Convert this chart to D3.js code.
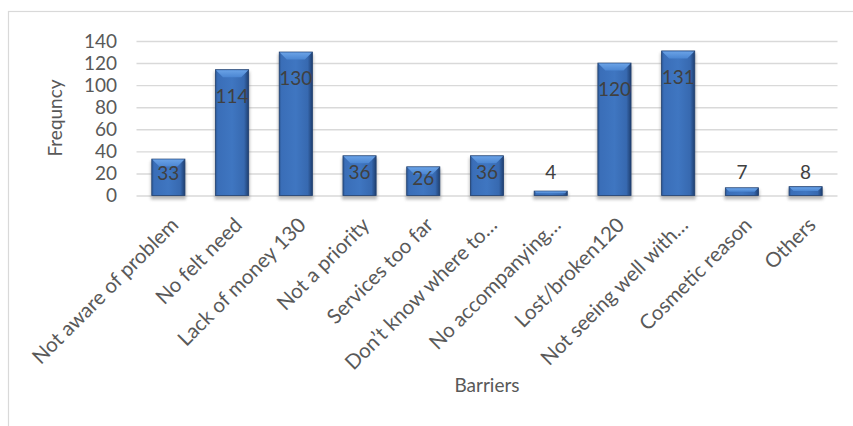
<!DOCTYPE html>
<html>
<head>
<meta charset="utf-8">
<script src="https://cdn.jsdelivr.net/npm/d3@7"></script>
<style>
  html, body { margin: 0; padding: 0; background: #fff; }
  svg { display: block; }
  text { font-family: Lato, "Open Sans", sans-serif; }
</style>
</head>
<body>
<div id="chart"></div>
<script>
const categories = ["Not aware of problem", "No felt need", "Lack of money 130", "Not a priority",
  "Services too far", "Don\u2019t know where to\u2026", "No accompanying\u2026", "Lost/broken120",
  "Not seeing well with\u2026", "Cosmetic reason", "Others"];
const values = [33, 114, 130, 36, 26, 36, 4, 120, 131, 7, 8];
const yTicks = [0, 20, 40, 60, 80, 100, 120, 140];
const yTitle = "Frequncy";
const xTitle = "Barriers";

const W = 853, H = 426;
const svg = d3.select("#chart").append("svg").attr("width", W).attr("height", H);
const defs = svg.append("defs");

const bodyGrad = defs.append("linearGradient").attr("id", "body").attr("x1", 0).attr("x2", 1).attr("y1", 0).attr("y2", 0);
[["0%", "#2c5896"], ["7%", "#3a6eb8"], ["50%", "#3f76c1"], ["86%", "#3769b0"], ["100%", "#1f3f70"]]
  .forEach(([o, c]) => bodyGrad.append("stop").attr("offset", o).attr("stop-color", c));
const topGrad = defs.append("linearGradient").attr("id", "bevel").attr("x1", 0).attr("x2", 0).attr("y1", 0).attr("y2", 1);
[["0%", "#6aa2e6"], ["100%", "#4b86d2"]].forEach(([o, c]) => topGrad.append("stop").attr("offset", o).attr("stop-color", c));
const blur = defs.append("filter").attr("id", "shadow").attr("x", "-20%").attr("y", "-50%").attr("width", "140%").attr("height", "200%");
blur.append("feGaussianBlur").attr("stdDeviation", 1.6);

// chart border
svg.append("rect").attr("x", 8.5).attr("y", 11.5).attr("width", 900).attr("height", 500)
  .attr("fill", "none").attr("stroke", "#d9d9d9").attr("stroke-width", 1.2);

const x = d3.scaleBand().domain(categories).range([136.5, 837.5]).paddingInner(0.48).paddingOuter(0.24);
const y = d3.scaleLinear().domain([0, 140]).range([195.5, 41]);

// gridlines
const yAxis = d3.axisLeft(y).tickValues(yTicks).tickSize(-(837.5 - 136.5)).tickPadding(20);
const gy = svg.append("g").attr("transform", "translate(136.5,0)").call(yAxis);
gy.select(".domain").remove();
gy.selectAll(".tick line").attr("stroke", "#d9d9d9").attr("stroke-width", 1.4);
gy.selectAll(".tick text").attr("fill", "#595959").style("font-size", "19px").style("font-family", "Lato")
  .attr("x", 117 - 136.5).attr("text-anchor", "end");

// bars
const bars = svg.append("g").selectAll("g").data(values).join("g");
const bw = x.bandwidth();
bars.append("rect")
  .attr("x", (d, i) => x(categories[i]) - 1)
  .attr("y", d => y(d) + 2)
  .attr("width", bw + 2)
  .attr("height", d => y(0) - y(d) + 2)
  .attr("fill", "#7f7f7f").attr("opacity", 0.55).attr("filter", "url(#shadow)");
bars.append("rect")
  .attr("x", (d, i) => x(categories[i]))
  .attr("y", d => y(d))
  .attr("width", bw)
  .attr("height", d => y(0) - y(d))
  .attr("fill", "url(#body)")
  .attr("stroke", "#1e3f70").attr("stroke-width", 0.8);
bars.append("path")
  .attr("d", (d, i) => {
    const x0 = x(categories[i]), y0 = y(d), h = y(0) - y(d);
    const b = Math.min(7.5, h / 2);
    return `M${x0 + 0.5},${y0 + 0.5}L${x0 + bw - 0.5},${y0 + 0.5}L${x0 + bw - b},${y0 + b}L${x0 + b},${y0 + b}Z`;
  })
  .attr("fill", "url(#bevel)");

// data labels
function labelY(d) {
  const top = y(d), h = y(0) - y(d);
  if (d >= 100) return top + 26;
  if (d >= 20) return top + h * 0.4;
  return y(21.5);
}
svg.append("g").selectAll("text").data(values).join("text")
  .attr("x", (d, i) => x(categories[i]) + bw / 2)
  .attr("y", d => labelY(d))
  .attr("dy", "0.36em")
  .attr("text-anchor", "middle")
  .attr("fill", "#404040")
  .style("font-size", "19px")
  .text(d => d);

// category labels
svg.append("g").selectAll("text").data(categories).join("text")
  .attr("transform", d => `translate(${x(d) + bw / 2 + 1},216) rotate(-45)`)
  .attr("dy", "0.71em")
  .attr("text-anchor", "end")
  .attr("fill", "#595959")
  .style("font-size", "20.5px")
  .text(d => d);

// axis titles
svg.append("text")
  .attr("transform", `translate(62,118) rotate(-90)`)
  .attr("text-anchor", "middle")
  .attr("fill", "#595959")
  .style("font-size", "19px")
  .text(yTitle);
svg.append("text")
  .attr("x", (136.5 + 837.5) / 2).attr("y", 392)
  .attr("text-anchor", "middle")
  .attr("fill", "#595959")
  .style("font-size", "19px")
  .text(xTitle);
</script>
</body>
</html>
